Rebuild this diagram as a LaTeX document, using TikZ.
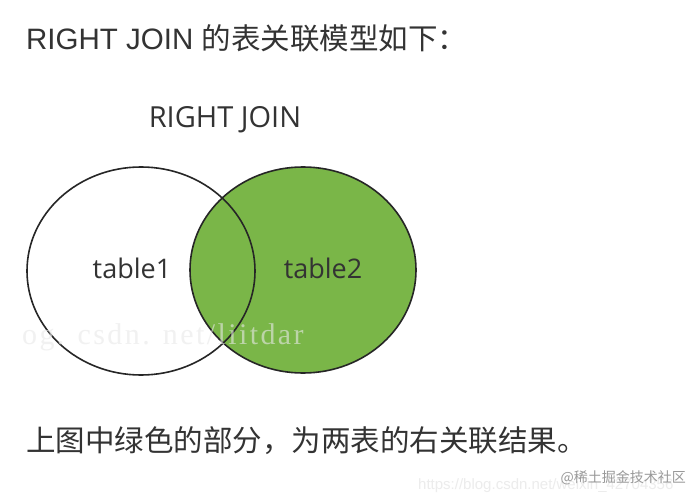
\documentclass[tikz,border=0pt]{standalone}
\usepackage{fontspec}
\setmainfont{Open Sans}
\newfontfamily\cjk{Noto Sans CJK SC}
\newfontfamily\arialf{Liberation Sans}
\newfontfamily\wmf{Liberation Serif}[LetterSpace=8]
\definecolor{vgreen}{HTML}{7AB648}
\definecolor{txt}{HTML}{333333}
\begin{document}
\begin{tikzpicture}[x=1pt,y=-1pt,
  lbl/.style={inner sep=0pt,text=txt},
  ring/.style={draw=black!85,line width=1.6pt}]
\useasboundingbox (0,0) rectangle (700,502);
\fill[white] (0,0) rectangle (700,502);
\node[lbl,anchor=west,font=\fontsize{29.5}{33}\selectfont] (title) at (26,38) {\arialf RIGHT JOIN \cjk 的表关联模型如下：};
\node[lbl,font=\fontsize{29}{33}\selectfont] (rj) at (225,120) {RIGHT JOIN};
\fill[vgreen] (303,270) ellipse (113 and 103);
\draw[ring] (141,271) ellipse (114 and 104);
\draw[ring] (303,270) ellipse (113 and 103);
\node[lbl,font=\fontsize{27}{30}\selectfont] (t1) at (132,268) {table1};
\node[lbl,font=\fontsize{27}{30}\selectfont] (t2) at (323,268) {table2};
\node[lbl,anchor=west,text=gray!18,opacity=0.6,font=\wmf\fontsize{30}{34}\selectfont] (wm) at (22,337) {og. csdn. net/liitdar};
\node[lbl,anchor=west,font=\cjk\fontsize{29.5}{34}\selectfont] (bottom) at (26,441) {上图中绿色的部分，为两表的右关联结果。};
\node[lbl,anchor=west,text=gray!15,font=\arialf\fontsize{15}{17}\selectfont] (url) at (418,486) {https://blog.csdn.net/weixin\_42704356};
\node[lbl,anchor=east,text=gray!80,font=\cjk\fontsize{14}{16}\selectfont] (wm2) at (686,478) {@稀土掘金技术社区};
\end{tikzpicture}
\end{document}
